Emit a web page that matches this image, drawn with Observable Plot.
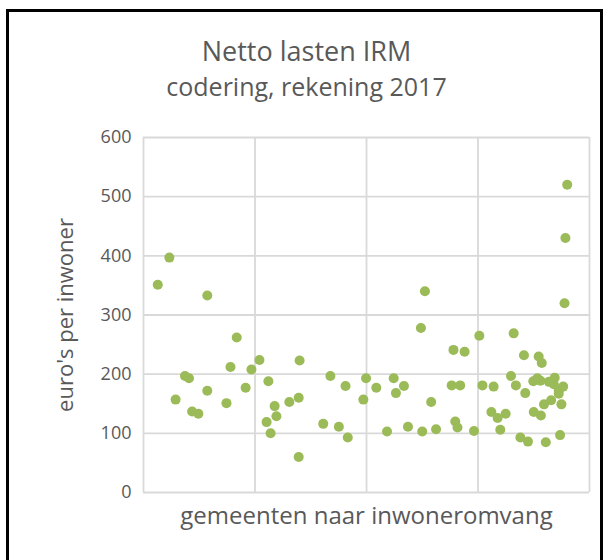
<!DOCTYPE html>
<html>
<head>
<meta charset="utf-8">
<script src="https://cdn.jsdelivr.net/npm/d3@7"></script>
<script src="https://cdn.jsdelivr.net/npm/@observablehq/plot@0.6"></script>
<style>
  html, body { margin: 0; padding: 0; background: #fff; }
  #wrap { position: relative; width: 609px; height: 560px; overflow: hidden; background: #fff; }
  #frame { position: absolute; left: 6px; top: 9px; width: 597px; height: 600px; border: 3px solid #000; box-sizing: border-box; pointer-events: none; }
  #chart { position: absolute; left: 0; top: 0; }
</style>
</head>
<body>
<div id="wrap">
  <div id="chart"></div>
  <div id="frame"></div>
</div>
<script>
// Position along the ordering of municipalities by population size (0–100 of the axis)
const posities = [3.2,5.8,7.2,9.3,10.2,10.9,12.3,14.3,14.3,18.6,19.5,20.9,22.9,24.2,26.0,27.6,28.0,28.5,29.4,29.8,32.7,34.8,35.0,34.8,40.3,41.9,43.8,45.3,45.8,49.3,49.9,52.2,54.6,56.1,56.6,58.4,59.3,62.2,63.1,62.5,64.5,65.6,69.1,69.5,69.9,70.4,71.0,72.0,74.1,75.3,76.0,78.0,78.5,79.4,80.0,81.2,82.4,83.0,83.5,84.5,85.3,85.6,86.2,87.5,87.4,88.3,88.6,89.1,89.0,89.3,89.8,90.2,90.9,91.4,92.0,92.2,93.1,93.1,93.4,93.7,94.1,94.4,94.6,95.0];
// Netto lasten IRM, euro's per inwoner
const lasten = [351,397,157,197,193,137,133,333,172,151,212,262,177,208,224,119,188,100,146,129,153,160,223,60,116,197,111,180,93,157,193,177,103,193,168,180,111,278,340,103,153,107,181,241,120,110,181,238,104,265,181,136,179,126,106,133,197,269,181,93,232,168,86,136,188,193,230,130,189,219,149,85,187,156,183,194,172,167,97,149,179,320,430,520];

const yTicks = [0, 100, 200, 300, 400, 500, 600];
const xGrid = [0, 25, 50, 75, 100];

const titel = "Netto lasten IRM";
const ondertitel = "codering, rekening 2017";
const yLabel = "euro's per inwoner";
const xLabel = "gemeenten naar inwoneromvang";

const data = posities.map((p, i) => ({positie: p, lasten: lasten[i]}));

const txt = "#595959";
const font = "'Open Sans', sans-serif";

const chart = Plot.plot({
  width: 609,
  height: 560,
  marginLeft: 143,
  marginRight: 20,
  marginTop: 137,
  marginBottom: 68,
  style: {fontFamily: font, background: "transparent", color: txt},
  x: {domain: [0, 100], axis: null},
  y: {domain: [0, 600], ticks: yTicks},
  marks: [
    Plot.ruleY(yTicks, {stroke: "#d9d9d9", strokeWidth: 1.8}),
    Plot.ruleX(xGrid, {stroke: "#d9d9d9", strokeWidth: 1.8}),
    Plot.axisY({ticks: yTicks, tickSize: 0, tickPadding: 12, fontSize: 18, label: null, fill: txt}),
    Plot.dot(data, {x: "positie", y: "lasten", r: 5, fill: "#9bbb59", stroke: null}),
    Plot.text([yLabel], {frameAnchor: "left", textAnchor: "middle", lineAnchor: "middle", rotate: -90, dx: -78, fontSize: 22, fill: txt}),
    Plot.text([xLabel], {frameAnchor: "bottom", dy: 31, fontSize: 24, fill: txt}),
    Plot.text([titel], {frameAnchor: "top", dx: -60, dy: -96, fontSize: 27, fill: txt}),
    Plot.text([ondertitel], {frameAnchor: "top", dx: -60, dy: -59, fontSize: 25, fill: txt})
  ]
});
document.getElementById("chart").appendChild(chart);
</script>
</body>
</html>
